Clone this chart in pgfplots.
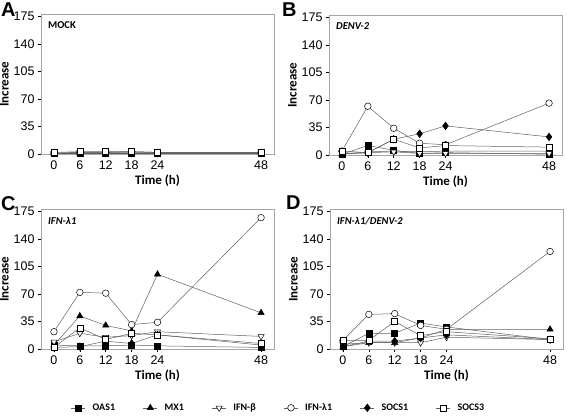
\documentclass[border=0pt]{standalone}
\usepackage{fontspec}
\setmainfont{Liberation Sans}
\newfontfamily\calfont{Carlito}
\usepackage{pgfplots}
\usepackage{pgfplotstable}
\pgfplotsset{compat=1.18}

\pgfplotstableread{
t oas mx ifnb ifnl socs1 socs3
0 1 1 1 1 1 2
6 1 1 2 2 1 3
12 1 1 2 2 1 3
18 1 1 2 3 1 3
24 1 1 2 2 1 2
48 1 1 2 2 1 2
}\mock
\pgfplotstableread{
t oas mx ifnb ifnl socs1 socs3
0 1 1 2 5 1 5
6 12 4 3 62 3 3
12 6 5 4 34 20 20
18 2 4 2 15 27 9
24 3 5 2 13 37 12
48 1 5 2 66 23 10
}\denv
\pgfplotstableread{
t oas mx ifnb ifnl socs1 socs3
0 5 5 9 22 2 2
6 4 42 20 72 3 27
12 4 30 15 71 10 12
18 5 23 17 31 7 20
24 4 95 22 34 18 18
48 2 46 16 167 5 7
}\ifn
\pgfplotstableread{
t oas mx ifnb ifnl socs1 socs3
0 3 3 6 11 3 11
6 20 8 8 44 10 11
12 20 8 8 45 10 35
18 33 14 8 30 14 17
24 28 25 15 25 18 22
48 12 25 12 124 12 13
}\both

\tikzset{ttl/.style={anchor=north west, font=\calfont\bfseries\fontsize{10.5}{11}\selectfont, inner sep=0pt}}
\pgfplotsset{
 panel/.style={scale only axis, width=233pt, height=140pt,
  xmin=-3, xmax=51, ymin=0, ymax=178,
  xtick={0,6,12,18,24,48}, ytick={0,35,70,105,140,175},
  axis line style={gray!70, line width=0.6pt},
  tick style={black, line width=0.6pt},
  tick align=outside, major tick length=3pt,
  xtick pos=bottom, ytick pos=left,
  ticklabel style={font=\fontsize{12.5}{12.5}\selectfont},
  /pgf/number format/assume math mode=true,
  xlabel={Time (h)}, ylabel={Increase},
  label style={font=\calfont\bfseries\fontsize{13}{13}\selectfont},
  xlabel style={yshift=1pt},
  ylabel style={yshift=-2pt},
  anchor=south west, clip=false,
  every axis plot/.append style={line width=0.5pt, color=gray!75!black}},
 oas/.style={mark=square*, mark size=3pt, mark options={fill=black, draw=black, solid}},
 mx/.style={mark=triangle*, mark size=3.6pt, mark options={fill=black, draw=black, solid}},
 ifnb/.style={mark=triangle*, mark size=3.6pt, mark options={rotate=180, fill=white, draw=black, solid}},
 ifnl/.style={mark=*, mark size=3.3pt, mark options={fill=white, draw=black, solid}},
 socs1/.style={mark=diamond*, mark size=3.8pt, mark options={fill=black, draw=black, solid}},
 socs3/.style={mark=square*, mark size=3pt, mark options={fill=white, draw=black, solid}},
}

\begin{document}
\begin{tikzpicture}[x=1pt,y=1pt]
\useasboundingbox (0,0) rectangle (567,415);

\begin{axis}[panel, at={(41pt,261pt)}]
\addplot[oas] table[x=t,y=oas]{\mock};
\addplot[mx] table[x=t,y=mx]{\mock};
\addplot[ifnb] table[x=t,y=ifnb]{\mock};
\addplot[ifnl] table[x=t,y=ifnl]{\mock};
\addplot[socs1] table[x=t,y=socs1]{\mock};
\addplot[socs3] table[x=t,y=socs3]{\mock};
\node[ttl] at (rel axis cs:0.03,0.945) {MOCK};
\end{axis}

\begin{axis}[panel, at={(329pt,260pt)}]
\addplot[oas] table[x=t,y=oas]{\denv};
\addplot[mx] table[x=t,y=mx]{\denv};
\addplot[ifnb] table[x=t,y=ifnb]{\denv};
\addplot[ifnl] table[x=t,y=ifnl]{\denv};
\addplot[socs1] table[x=t,y=socs1]{\denv};
\addplot[socs3] table[x=t,y=socs3]{\denv};
\node[ttl] at (rel axis cs:0.03,0.945) {\itshape DENV-2};
\end{axis}

\begin{axis}[panel, at={(41pt,66pt)},
  legend columns=6,
  legend image code/.code={\draw[#1] (0pt,0pt) -- (14pt,0pt); \draw[#1, only marks] plot coordinates {(7pt,0pt)};},
  legend style={at={(1.02,-0.42)}, anchor=center, draw=none,
   font=\calfont\bfseries\fontsize{10}{10}\selectfont,
   /tikz/every odd column/.append style={column sep=5pt},
   /tikz/every even column/.append style={column sep=26pt}}]
\addplot[oas] table[x=t,y=oas]{\ifn};
\addplot[mx] table[x=t,y=mx]{\ifn};
\addplot[ifnb] table[x=t,y=ifnb]{\ifn};
\addplot[ifnl] table[x=t,y=ifnl]{\ifn};
\addplot[socs1] table[x=t,y=socs1]{\ifn};
\addplot[socs3] table[x=t,y=socs3]{\ifn};
\legend{OAS1,MX1,IFN-β,IFN-λ1,SOCS1,SOCS3}
\node[ttl] at (rel axis cs:0.03,0.945) {\itshape IFN-λ1};
\end{axis}

\begin{axis}[panel, at={(330pt,66pt)}]
\addplot[oas] table[x=t,y=oas]{\both};
\addplot[mx] table[x=t,y=mx]{\both};
\addplot[ifnb] table[x=t,y=ifnb]{\both};
\addplot[ifnl] table[x=t,y=ifnl]{\both};
\addplot[socs1] table[x=t,y=socs1]{\both};
\addplot[socs3] table[x=t,y=socs3]{\both};
\node[ttl] at (rel axis cs:0.03,0.945) {\itshape IFN-λ1/DENV-2};
\end{axis}

\node[anchor=north west, inner sep=0pt, font=\bfseries\fontsize{20}{20}\selectfont] at (1,412) {A};
\node[anchor=north west, inner sep=0pt, font=\bfseries\fontsize{20}{20}\selectfont] at (282,412) {B};
\node[anchor=north west, inner sep=0pt, font=\bfseries\fontsize{20}{20}\selectfont] at (1,219) {C};
\node[anchor=north west, inner sep=0pt, font=\bfseries\fontsize{20}{20}\selectfont] at (286,219) {D};
\end{tikzpicture}
\end{document}
